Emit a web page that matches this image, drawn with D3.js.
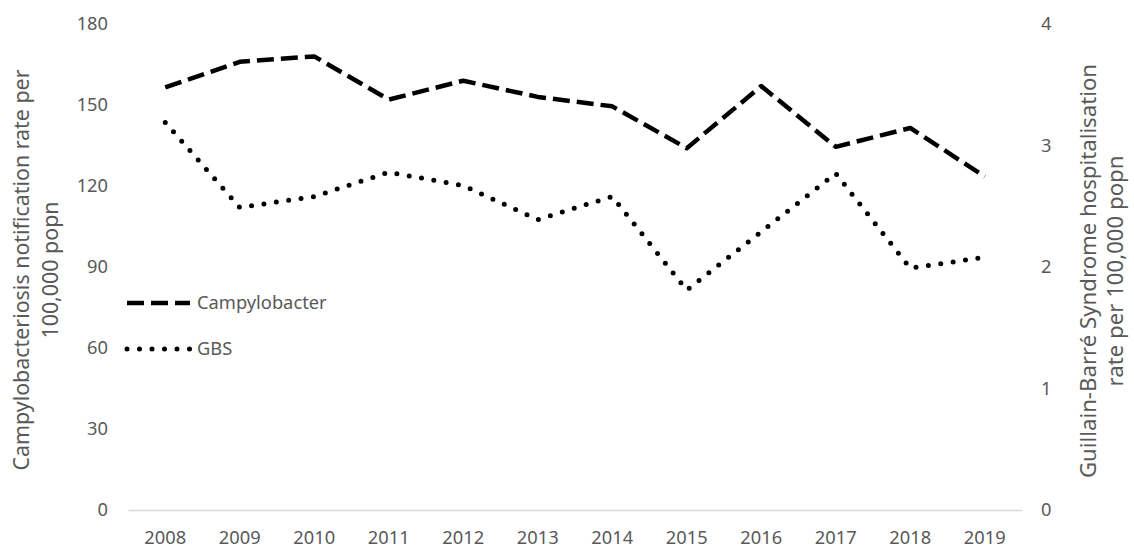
<!DOCTYPE html>
<html><head><meta charset="utf-8">
<script src="https://cdn.jsdelivr.net/npm/d3@7"></script>
<style>body{margin:0;background:#fff}svg{display:block}</style>
</head><body>
<svg id="c" width="1134" height="551"></svg>
<script>
const years = ["2008","2009","2010","2011","2012","2013","2014","2015","2016","2017","2018","2019"];
const campylobacter = [156.5,166,168,152,159,153,149.5,134,157,134.5,141.5,123.5];
const gbs = [3.19,2.49,2.58,2.78,2.67,2.39,2.58,1.81,2.29,2.77,1.99,2.08];
const leftTicks = [0,30,60,90,120,150,180];
const rightTicks = [0,1,2,3,4];

const svg = d3.select("#c");
const font = "'Noto Sans', sans-serif";
const grey = "#595959";
const fs = "18.3px";
const m = {l:128, r:1022, t:24, b:510};
const x = d3.scaleBand().domain(years).range([m.l, m.r]);
const yL = d3.scaleLinear().domain([0,180]).range([m.b, m.t]);
const yR = d3.scaleLinear().domain([0,4]).range([m.b, m.t]);

// x axis
const xa = svg.append("g").attr("transform",`translate(0,${m.b})`)
  .call(d3.axisBottom(x).tickSize(0).tickPadding(21));
xa.select(".domain").attr("stroke","#d9d9d9").attr("stroke-width",1.3);
xa.selectAll("text").attr("fill",grey).style("font-family",font).style("font-size",fs);

const la = svg.append("g").attr("transform",`translate(${m.l-20},0)`)
  .call(d3.axisLeft(yL).tickValues(leftTicks).tickSize(0).tickPadding(0));
la.select(".domain").remove();
la.selectAll("text").attr("fill",grey).style("font-family",font).style("font-size",fs);

const ra = svg.append("g").attr("transform",`translate(${m.r+19},0)`)
  .call(d3.axisRight(yR).tickValues(rightTicks).tickFormat(d3.format("d")).tickSize(0).tickPadding(0));
ra.select(".domain").remove();
ra.selectAll("text").attr("fill",grey).style("font-family",font).style("font-size",fs);

// axis titles
function title(xp, cy, size, gap, lines){
  const t = svg.append("text").attr("transform",`translate(${xp},${cy}) rotate(-90)`)
    .attr("text-anchor","middle").attr("fill",grey).style("font-family",font).style("font-size",size+"px");
  lines.forEach((s,i)=>t.append("tspan").attr("x",0).attr("dy", i===0?0:gap).text(s));
}
title(29, 270, 21.4, 29, ["Campylobacteriosis notification rate per","100,000 popn"]);
title(1096, 271, 22.2, 27, ["Guillain-Barré Syndrome hospitalisation","rate per 100,000 popn"]);

const cx = d => x(d) + x.bandwidth()/2;
const lineL = d3.line().x((d,i)=>cx(years[i])).y(d=>yL(d));
const lineR = d3.line().x((d,i)=>cx(years[i])).y(d=>yR(d));

const dashStyle = s => s.attr("fill","none").attr("stroke","#000").attr("stroke-width",4.5)
  .attr("stroke-dasharray","17,7").attr("stroke-linejoin","round");
const dotStyle = s => s.attr("fill","none").attr("stroke","#000").attr("stroke-width",5)
  .attr("stroke-dasharray","0,12.5").attr("stroke-linecap","round").attr("stroke-linejoin","round");

svg.append("path").datum(campylobacter).attr("d",lineL).call(dashStyle);
svg.append("path").datum(gbs).attr("d",lineR).call(dotStyle);

// legend
const legend = [{name:"Campylobacter", y:303, st:dashStyle},{name:"GBS", y:349, st:dotStyle}];
legend.forEach(l=>{
  svg.append("path").attr("d",`M127,${l.y}H190`).call(l.st);
  svg.append("text").attr("x",197).attr("y",l.y).attr("dy","0.35em").attr("fill",grey)
    .style("font-family",font).style("font-size",fs).text(l.name);
});
</script>
</body></html>
